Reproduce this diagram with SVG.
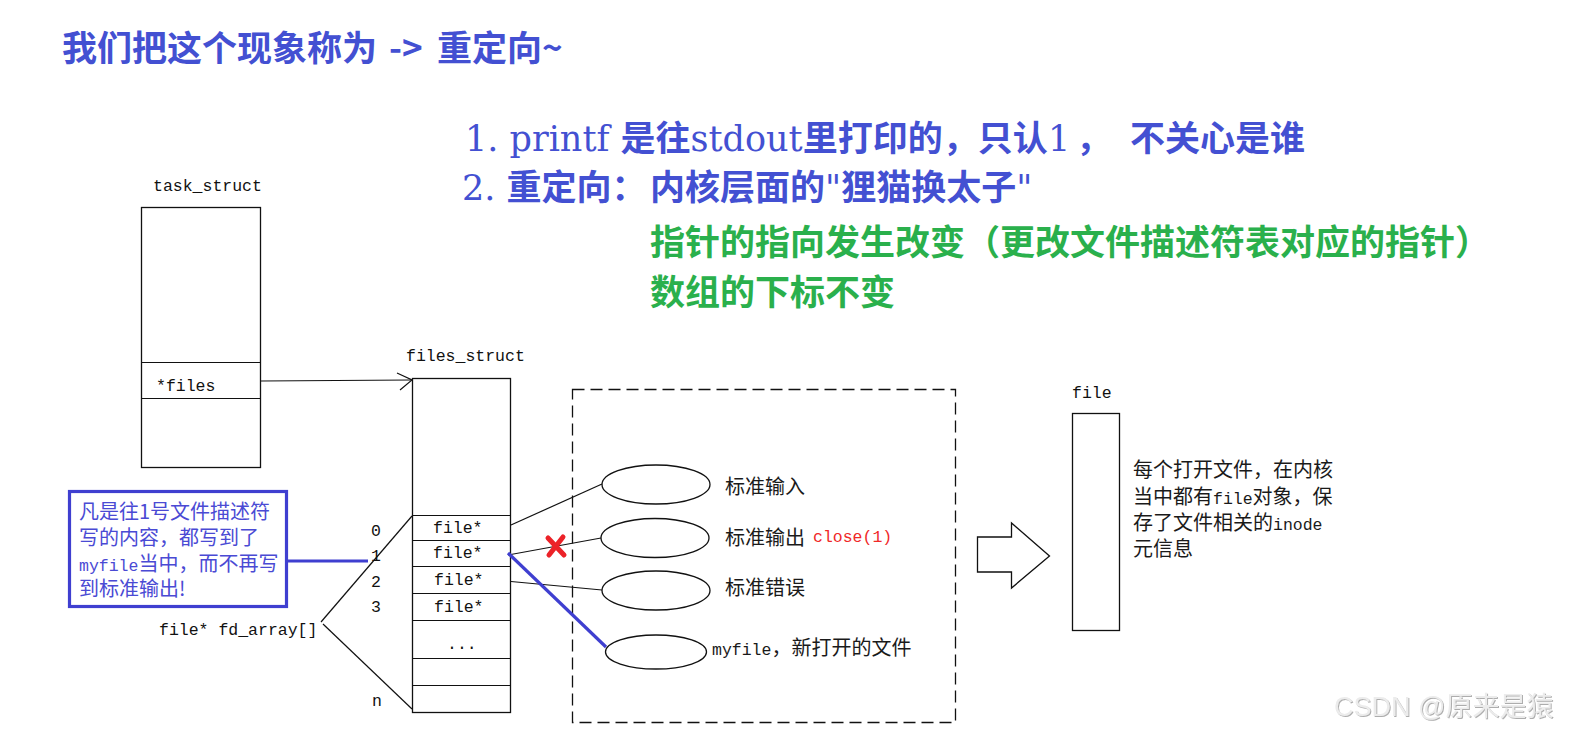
<svg xmlns="http://www.w3.org/2000/svg" width="1573" height="737" viewBox="0 0 1573 737">
<defs>
<style>
.h{font-family:"Noto Sans CJK SC","Noto Sans",sans-serif;font-size:35px;font-weight:bold}
.lat{font-family:"DejaVu Serif","Liberation Serif",serif;font-weight:normal}
.blue{fill:#4350d2}
.green{fill:#2ab04c}
.m{font-family:"Liberation Mono","DejaVu Sans Mono",monospace;font-size:16.5px;fill:#111}
.c{font-family:"Noto Sans CJK SC","Noto Sans",sans-serif;font-size:20px;fill:#1a1a1a}
.cm{font-family:"Liberation Mono","DejaVu Sans Mono",monospace;font-size:16.5px}
.ln{stroke:#111;stroke-width:1.2;fill:none}
.box{stroke:#111;stroke-width:1.3;fill:#fff}
.bl{stroke:#3f3fd0;stroke-width:3.2;fill:none}
</style>
<filter id="emb" x="-5%" y="-20%" width="110%" height="140%">
<feDropShadow dx="1" dy="1" stdDeviation="0.6" flood-color="#8a8a8a" flood-opacity="0.7"/>
</filter>
</defs>
<rect width="1573" height="737" fill="#fff"/>

<g id="title">
<text x="62" y="61" class="h blue">我们把这个现象称为<tspan x="389">-&gt;</tspan><tspan x="437">重定向~</tspan></text>
</g>
<g id="notes">
<text x="465" y="151" class="h blue"><tspan class="lat">1. printf </tspan>是往<tspan class="lat">stdout</tspan>里打印的，只认<tspan class="lat" x="1048">1</tspan><tspan x="1076">，</tspan><tspan x="1130">不关心是谁</tspan></text>
<text x="462" y="200" class="h blue"><tspan class="lat">2. </tspan>重定向：<tspan x="650">内核层面的</tspan><tspan class="lat">"</tspan>狸猫换太子<tspan class="lat">"</tspan></text>
<text x="650" y="255" class="h green">指针的指向发生改变（更改文件描述符表对应的指针）</text>
<text x="650" y="305" class="h green">数组的下标不变</text>
</g>

<g id="task_struct">
<text x="153" y="191" class="m">task_struct</text>
<rect x="141.5" y="207.5" width="119" height="260" class="box"/>
<line x1="141.5" y1="362.5" x2="260.5" y2="362.5" class="ln"/>
<line x1="141.5" y1="398.5" x2="260.5" y2="398.5" class="ln"/>
<text x="156" y="391" class="m">*files</text>
</g>

<g id="files_struct">
<text x="406" y="361" class="m">files_struct</text>
<rect x="412.5" y="378.5" width="98" height="334" class="box"/>
<line x1="412.5" y1="515.5" x2="510.5" y2="515.5" class="ln"/>
<line x1="412.5" y1="540.5" x2="510.5" y2="540.5" class="ln"/>
<line x1="412.5" y1="566.5" x2="510.5" y2="566.5" class="ln"/>
<line x1="412.5" y1="593.5" x2="510.5" y2="593.5" class="ln"/>
<line x1="412.5" y1="620.5" x2="510.5" y2="620.5" class="ln"/>
<line x1="412.5" y1="658.5" x2="510.5" y2="658.5" class="ln"/>
<line x1="412.5" y1="685.5" x2="510.5" y2="685.5" class="ln"/>
<text x="433" y="533" class="m">file*</text>
<text x="433" y="558" class="m">file*</text>
<text x="434" y="585" class="m">file*</text>
<text x="434" y="612" class="m">file*</text>
<text x="447" y="649" class="m">...</text>
<text x="371" y="536" class="m">0</text>
<text x="371" y="561" class="m">1</text>
<text x="371" y="587" class="m">2</text>
<text x="371" y="612" class="m">3</text>
<text x="372" y="706" class="m">n</text>
<text x="159" y="635" class="m">file* fd_array[]</text>
</g>

<g id="note_box">
<rect x="69.5" y="491.5" width="217" height="115" fill="#fff" stroke="#3f3fd0" stroke-width="3.2"/>
<text class="c" style="fill:#4a4ad4">
<tspan x="79" y="519">凡是往1号文件描述符</tspan>
<tspan x="79" y="545">写的内容，都写到了</tspan>
<tspan x="79" y="571"><tspan class="cm">myfile</tspan>当中，而不再写</tspan>
<tspan x="79" y="596">到标准输出!</tspan>
</text>
</g>

<g id="kernel_files">
<rect x="572.5" y="389.5" width="383" height="333" fill="none" stroke="#111" stroke-width="1.3" stroke-dasharray="12,6"/>
<ellipse cx="656" cy="484.5" rx="54" ry="19.5" class="box"/>
<ellipse cx="655" cy="538" rx="54" ry="19.5" class="box"/>
<ellipse cx="656" cy="590.5" rx="54" ry="19.5" class="box"/>
<ellipse cx="656" cy="652" rx="50.5" ry="17" class="box"/>
<text x="725" y="494" class="c">标准输入</text>
<text x="725" y="545" class="c">标准输出</text>
<text x="813" y="542" class="m" style="fill:#f02828">close(1)</text>
<text x="725" y="595" class="c">标准错误</text>
<text x="712" y="655" class="c"><tspan class="cm">myfile</tspan>，新打开的文件</text>
</g>

<g id="file_obj">
<text x="1072" y="398" class="m">file</text>
<rect x="1072.5" y="413.5" width="47" height="217" class="box"/>
<text class="c">
<tspan x="1133" y="477">每个打开文件，在内核</tspan>
<tspan x="1133" y="504">当中都有<tspan class="cm">file</tspan>对象，保</tspan>
<tspan x="1133" y="530">存了文件相关的<tspan class="cm">inode</tspan></tspan>
<tspan x="1133" y="556">元信息</tspan>
</text>
</g>

<g id="connectors">
<polyline points="261,381 336,380.5 411,380" class="ln"/>
<polyline points="397,373 412,380 400,390" class="ln"/>
<line x1="321" y1="622" x2="412" y2="516" class="ln"/>
<line x1="323" y1="624" x2="412" y2="709" class="ln"/>
<line x1="287" y1="561" x2="368" y2="561" class="bl"/>
<line x1="511" y1="525" x2="602" y2="484" class="ln"/>
<line x1="508" y1="555" x2="601" y2="538" class="ln"/>
<line x1="511" y1="581.5" x2="602" y2="590" class="ln"/>
<line x1="508" y1="553" x2="606" y2="647" class="bl"/>
<g id="red_x" stroke="#ec2228" stroke-width="5" stroke-linecap="round">
<line x1="548" y1="538" x2="564" y2="555"/>
<line x1="563" y1="537" x2="549" y2="555"/>
</g>
<polygon points="977.5,537 1011.5,537 1011.5,523 1049.5,556 1011.5,588 1011.5,572 977.5,572" fill="#fff" stroke="#111" stroke-width="1.3"/>
</g>

<g id="watermark">
<text x="1334" y="716" font-family="Liberation Sans, Noto Sans CJK SC, sans-serif" font-size="27" fill="#ececec" filter="url(#emb)">CSDN @原来是猿</text>
</g>
</svg>
